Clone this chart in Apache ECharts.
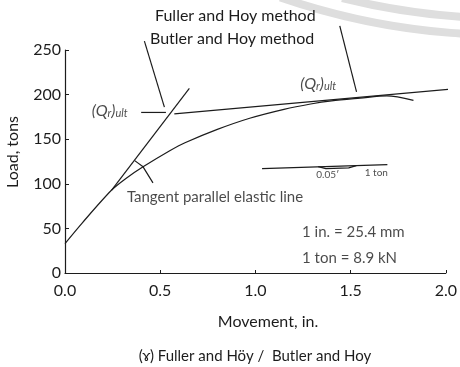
<!DOCTYPE html>
<html>
<head>
<meta charset="utf-8">
<script src="https://cdn.jsdelivr.net/npm/echarts@6/dist/echarts.min.js"></script>
<style>
  html, body { margin: 0; padding: 0; background: #fff; }
  #main { width: 460px; height: 367px; }
</style>
</head>
<body>
<div id="main"></div>
<script>
// 载荷-位移曲线
var curveX = [0, 0.09, 0.245, 0.32, 0.41, 0.55, 0.63, 0.80, 0.97, 1.15, 1.29, 1.40, 1.55, 1.69, 1.83];
var curveLoad = [33, 56, 93, 106, 119, 137, 146, 161, 173.5, 183.5, 189.5, 193, 196, 198.5, 193.5];

// 弹性线 / 切线
var elasticX = [0.245, 0.653];
var elasticLoad = [93, 207];
var upperX = [0.574, 2.016];
var upperLoad = [178.4, 206];
var tangentX = [0.366, 0.41, 0.462];
var tangentLoad = [126, 119, 101];

// 标注引线
var qultArrowX = [0.40, 0.53];
var qultArrowLoad = [180, 180];
var leaderLeftX = [0.417, 0.522];
var leaderLeftLoad = [260, 186];
var leaderRightX = [1.443, 1.531];
var leaderRightLoad = [277, 203];

// 比例尺
var scaleBarX = [1.035, 1.693];
var scaleBarLoad = [117, 121.6];
var scaleLensX = [1.33, 1.37, 1.49, 1.53];
var scaleLensLoad = [119.2, 117, 117.8, 120.3];

// 坐标轴
var xMin = 0, xMax = 2, xStep = 0.5;
var yMin = 0, yMax = 250, yStep = 50;

var ink = '#1c1c1c';
var font = 'Lato, "DejaVu Sans", sans-serif';

function pairs(xs, ys) {
    var out = [];
    for (var i = 0; i < xs.length; i++) {
        out.push([xs[i], ys[i]]);
    }
    return out;
}

function lineSeries(xs, ys, smooth) {
    return {
        type: 'line',
        data: pairs(xs, ys),
        showSymbol: false,
        symbol: 'none',
        smooth: smooth ? 0.3 : false,
        clip: false,
        silent: true,
        lineStyle: { color: ink, width: 1.2 }
    };
}

var qult = '{a|(Q}{s|r}{a|)}{s|ult}';
var qultRich = {
    a: { fontSize: 16, fontFamily: font, color: ink, fontStyle: 'italic' },
    s: { fontSize: 11, fontFamily: font, color: ink, fontStyle: 'italic', padding: [6, 0, 0, 0] }
};

var notes = [
    { value: [0.235, 182], text: qult, align: 'center' },
    { value: [1.33, 212.5], text: qult, align: 'center' },
    { value: [0.325, 85], text: 'Tangent parallel elastic line', align: 'left', size: 15 },
    { value: [1.245, 45.5], text: '1 in. = 25.4 mm', align: 'left', size: 15 },
    { value: [1.245, 17], text: '1 ton = 8.9 kN', align: 'left', size: 15 },
    { value: [1.38, 110], text: '0.05\u2032', align: 'center', size: 10 },
    { value: [1.635, 112.5], text: '1 ton', align: 'center', size: 10 }
];

var chart = echarts.init(document.getElementById('main'));

chart.setOption({
    animation: false,
    backgroundColor: '#fff',
    grid: { left: 65, right: 11, top: 50, bottom: 94 },
    xAxis: {
        type: 'value',
        min: xMin,
        max: xMax,
        interval: xStep,
        splitLine: { show: false },
        axisLine: { lineStyle: { color: ink, width: 1.2 } },
        axisTick: { inside: true, length: 3, lineStyle: { color: ink } },
        axisLabel: {
            color: ink, fontSize: 16, fontFamily: font, margin: 10,
            formatter: function (v) { return v.toFixed(1); }
        }
    },
    yAxis: {
        type: 'value',
        min: yMin,
        max: yMax,
        interval: yStep,
        splitLine: { show: false },
        axisLine: { show: true, lineStyle: { color: ink, width: 1.2 } },
        axisTick: { show: true, inside: true, length: 4, lineStyle: { color: ink } },
        axisLabel: { color: ink, fontSize: 16, fontFamily: font, margin: 4 }
    },
    graphic: [
        // 水印弧线
        { type: 'arc', silent: true, z: -10,
          shape: { cx: 505, cy: -655, r: 690, startAngle: 80 * Math.PI / 180, endAngle: 109 * Math.PI / 180, clockwise: true },
          style: { stroke: '#dedede', lineWidth: 8, fill: null } },
        { type: 'arc', silent: true, z: -10,
          shape: { cx: 505, cy: -655, r: 673, startAngle: 80 * Math.PI / 180, endAngle: 104 * Math.PI / 180, clockwise: true },
          style: { stroke: '#dedede', lineWidth: 8, fill: null } },
        { type: 'text', left: 155, top: 8,
          style: { text: 'Fuller and Hoy method', fill: ink, font: '16px ' + font } },
        { type: 'text', left: 150, top: 31,
          style: { text: 'Butler and Hoy method', fill: ink, font: '16px ' + font } },
        { type: 'text', x: 13, y: 152, rotation: Math.PI / 2,
          style: { text: 'Load, tons', fill: ink, font: '16px ' + font, align: 'center', verticalAlign: 'middle' } },
        { type: 'text', x: 268, y: 322,
          style: { text: 'Movement, in.', fill: ink, font: '16px ' + font, align: 'center', verticalAlign: 'middle' } },
        { type: 'text', x: 255, y: 356,
          style: { text: '(\u0264) Fuller and H\u00f6y /  Butler and Hoy', fill: ink, font: '15px ' + font, align: 'center', verticalAlign: 'middle' } }
    ],
    series: [
        lineSeries(curveX, curveLoad, true),
        lineSeries(elasticX, elasticLoad),
        lineSeries(upperX, upperLoad),
        lineSeries(tangentX, tangentLoad),
        lineSeries(qultArrowX, qultArrowLoad),
        lineSeries(leaderLeftX, leaderLeftLoad),
        lineSeries(leaderRightX, leaderRightLoad),
        lineSeries(scaleBarX, scaleBarLoad),
        lineSeries(scaleLensX, scaleLensLoad),
        {
            type: 'scatter',
            symbolSize: 0,
            silent: true,
            clip: false,
            data: notes.map(function (n) {
                return {
                    value: n.value,
                    label: {
                        show: true,
                        position: 'inside',
                        align: n.align,
                        verticalAlign: 'middle',
                        formatter: n.text,
                        color: ink,
                        fontSize: n.size || 14,
                        fontFamily: font,
                        rich: qultRich
                    }
                };
            })
        }
    ]
});
</script>
</body>
</html>
